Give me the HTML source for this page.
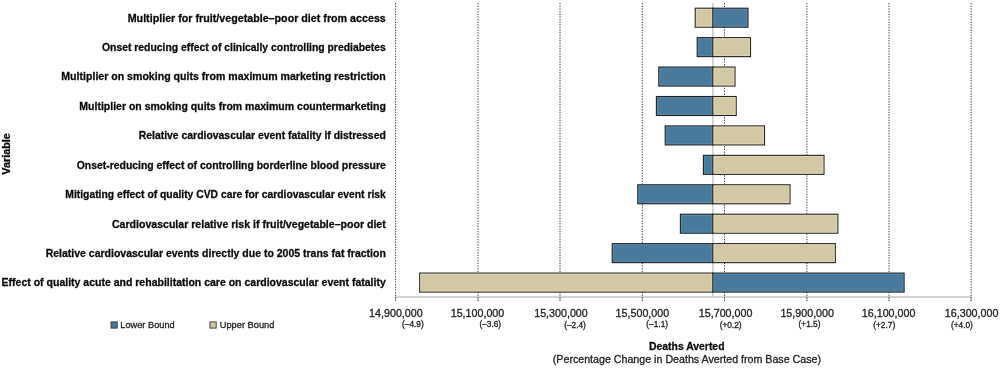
<!DOCTYPE html>
<html><head><meta charset="utf-8"><style>
html,body{margin:0;padding:0;background:#fff;}
body{width:1000px;height:368px;overflow:hidden;}
svg{display:block;will-change:transform;}
text{font-family:"Liberation Sans",sans-serif;}
.r{stroke:#222;stroke-width:0.3;}
.b{stroke:#0a0a0a;stroke-width:0.28;}
</style></head><body>
<svg width="1000" height="368" viewBox="0 0 1000 368">

<line x1="395.1" y1="297" x2="971.6" y2="297" stroke="#c4c4c4" stroke-width="1.6"/>
<line x1="395.6" y1="297" x2="395.6" y2="301" stroke="#c4c4c4" stroke-width="1.2"/>
<line x1="478.0" y1="297" x2="478.0" y2="301" stroke="#c4c4c4" stroke-width="1.2"/>
<line x1="560.0" y1="297" x2="560.0" y2="301" stroke="#c4c4c4" stroke-width="1.2"/>
<line x1="642.3" y1="297" x2="642.3" y2="301" stroke="#c4c4c4" stroke-width="1.2"/>
<line x1="724.5" y1="297" x2="724.5" y2="301" stroke="#c4c4c4" stroke-width="1.2"/>
<line x1="806.9" y1="297" x2="806.9" y2="301" stroke="#c4c4c4" stroke-width="1.2"/>
<line x1="889.0" y1="297" x2="889.0" y2="301" stroke="#c4c4c4" stroke-width="1.2"/>
<line x1="971.1" y1="297" x2="971.1" y2="301" stroke="#c4c4c4" stroke-width="1.2"/>
<line x1="395.6" y1="3.1" x2="395.6" y2="301" stroke="#3a3a3a" stroke-width="1" stroke-dasharray="1.3,1.35"/>
<line x1="478.0" y1="3.1" x2="478.0" y2="301" stroke="#3a3a3a" stroke-width="1" stroke-dasharray="1.3,1.35"/>
<line x1="560.0" y1="3.1" x2="560.0" y2="301" stroke="#3a3a3a" stroke-width="1" stroke-dasharray="1.3,1.35"/>
<line x1="642.3" y1="3.1" x2="642.3" y2="301" stroke="#3a3a3a" stroke-width="1" stroke-dasharray="1.3,1.35"/>
<line x1="724.5" y1="3.1" x2="724.5" y2="301" stroke="#3a3a3a" stroke-width="1" stroke-dasharray="1.3,1.35"/>
<line x1="806.9" y1="3.1" x2="806.9" y2="301" stroke="#3a3a3a" stroke-width="1" stroke-dasharray="1.3,1.35"/>
<line x1="889.0" y1="3.1" x2="889.0" y2="301" stroke="#3a3a3a" stroke-width="1" stroke-dasharray="1.3,1.35"/>
<line x1="971.1" y1="3.1" x2="971.1" y2="301" stroke="#3a3a3a" stroke-width="1" stroke-dasharray="1.3,1.35"/>
<line x1="712.9" y1="3.1" x2="712.9" y2="297" stroke="#c8c8c8" stroke-width="1.5"/>
<rect x="695.2" y="8.20" width="17.7" height="19.0" fill="#d2c8a5" stroke="#222" stroke-width="1.1"/>
<rect x="712.9" y="8.20" width="35.1" height="19.0" fill="#4a7a9b" stroke="#222" stroke-width="1.1"/>
<rect x="696.30" y="9.30" width="15.5" height="16.80" fill="none" stroke="#e4d9b6" stroke-width="0.7"/>
<rect x="714.00" y="9.30" width="32.9" height="16.80" fill="none" stroke="#5e8fb0" stroke-width="0.7"/>
<rect x="697.2" y="37.63" width="15.7" height="19.0" fill="#4a7a9b" stroke="#222" stroke-width="1.1"/>
<rect x="712.9" y="37.63" width="37.6" height="19.0" fill="#d2c8a5" stroke="#222" stroke-width="1.1"/>
<rect x="698.30" y="38.73" width="13.5" height="16.80" fill="none" stroke="#5e8fb0" stroke-width="0.7"/>
<rect x="714.00" y="38.73" width="35.4" height="16.80" fill="none" stroke="#e4d9b6" stroke-width="0.7"/>
<rect x="658.8" y="67.06" width="54.1" height="19.0" fill="#4a7a9b" stroke="#222" stroke-width="1.1"/>
<rect x="712.9" y="67.06" width="22.1" height="19.0" fill="#d2c8a5" stroke="#222" stroke-width="1.1"/>
<rect x="659.90" y="68.16" width="51.9" height="16.80" fill="none" stroke="#5e8fb0" stroke-width="0.7"/>
<rect x="714.00" y="68.16" width="19.9" height="16.80" fill="none" stroke="#e4d9b6" stroke-width="0.7"/>
<rect x="656.4" y="96.49" width="56.5" height="19.0" fill="#4a7a9b" stroke="#222" stroke-width="1.1"/>
<rect x="712.9" y="96.49" width="23.3" height="19.0" fill="#d2c8a5" stroke="#222" stroke-width="1.1"/>
<rect x="657.50" y="97.59" width="54.3" height="16.80" fill="none" stroke="#5e8fb0" stroke-width="0.7"/>
<rect x="714.00" y="97.59" width="21.1" height="16.80" fill="none" stroke="#e4d9b6" stroke-width="0.7"/>
<rect x="665.2" y="125.92" width="47.7" height="19.0" fill="#4a7a9b" stroke="#222" stroke-width="1.1"/>
<rect x="712.9" y="125.92" width="51.6" height="19.0" fill="#d2c8a5" stroke="#222" stroke-width="1.1"/>
<rect x="666.30" y="127.02" width="45.5" height="16.80" fill="none" stroke="#5e8fb0" stroke-width="0.7"/>
<rect x="714.00" y="127.02" width="49.4" height="16.80" fill="none" stroke="#e4d9b6" stroke-width="0.7"/>
<rect x="703.4" y="155.35" width="9.5" height="19.0" fill="#4a7a9b" stroke="#222" stroke-width="1.1"/>
<rect x="712.9" y="155.35" width="111.1" height="19.0" fill="#d2c8a5" stroke="#222" stroke-width="1.1"/>
<rect x="704.50" y="156.45" width="7.3" height="16.80" fill="none" stroke="#5e8fb0" stroke-width="0.7"/>
<rect x="714.00" y="156.45" width="108.9" height="16.80" fill="none" stroke="#e4d9b6" stroke-width="0.7"/>
<rect x="637.8" y="184.78" width="75.1" height="19.0" fill="#4a7a9b" stroke="#222" stroke-width="1.1"/>
<rect x="712.9" y="184.78" width="77.1" height="19.0" fill="#d2c8a5" stroke="#222" stroke-width="1.1"/>
<rect x="638.90" y="185.88" width="72.9" height="16.80" fill="none" stroke="#5e8fb0" stroke-width="0.7"/>
<rect x="714.00" y="185.88" width="74.9" height="16.80" fill="none" stroke="#e4d9b6" stroke-width="0.7"/>
<rect x="680.4" y="214.21" width="32.5" height="19.0" fill="#4a7a9b" stroke="#222" stroke-width="1.1"/>
<rect x="712.9" y="214.21" width="125.0" height="19.0" fill="#d2c8a5" stroke="#222" stroke-width="1.1"/>
<rect x="681.50" y="215.31" width="30.3" height="16.80" fill="none" stroke="#5e8fb0" stroke-width="0.7"/>
<rect x="714.00" y="215.31" width="122.8" height="16.80" fill="none" stroke="#e4d9b6" stroke-width="0.7"/>
<rect x="612.2" y="243.64" width="100.7" height="19.0" fill="#4a7a9b" stroke="#222" stroke-width="1.1"/>
<rect x="712.9" y="243.64" width="122.4" height="19.0" fill="#d2c8a5" stroke="#222" stroke-width="1.1"/>
<rect x="613.30" y="244.74" width="98.5" height="16.80" fill="none" stroke="#5e8fb0" stroke-width="0.7"/>
<rect x="714.00" y="244.74" width="120.2" height="16.80" fill="none" stroke="#e4d9b6" stroke-width="0.7"/>
<rect x="419.7" y="273.07" width="293.2" height="19.0" fill="#d2c8a5" stroke="#222" stroke-width="1.1"/>
<rect x="712.9" y="273.07" width="191.2" height="19.0" fill="#4a7a9b" stroke="#222" stroke-width="1.1"/>
<rect x="420.80" y="274.17" width="291.0" height="16.80" fill="none" stroke="#e4d9b6" stroke-width="0.7"/>
<rect x="714.00" y="274.17" width="189.0" height="16.80" fill="none" stroke="#5e8fb0" stroke-width="0.7"/>
<text x="127.7" y="21.50" font-size="11" font-weight="bold" fill="#0a0a0a" class="b" textLength="258.1" lengthAdjust="spacingAndGlyphs">Multiplier for fruit/vegetable–poor diet from access</text>
<text x="102.0" y="50.93" font-size="11" font-weight="bold" fill="#0a0a0a" class="b" textLength="283.8" lengthAdjust="spacingAndGlyphs">Onset reducing effect of clinically controlling prediabetes</text>
<text x="61.3" y="80.36" font-size="11" font-weight="bold" fill="#0a0a0a" class="b" textLength="324.5" lengthAdjust="spacingAndGlyphs">Multiplier on smoking quits from maximum marketing restriction</text>
<text x="79.3" y="109.79" font-size="11" font-weight="bold" fill="#0a0a0a" class="b" textLength="306.5" lengthAdjust="spacingAndGlyphs">Multiplier on smoking quits from maximum countermarketing</text>
<text x="138.7" y="139.22" font-size="11" font-weight="bold" fill="#0a0a0a" class="b" textLength="247.1" lengthAdjust="spacingAndGlyphs">Relative cardiovascular event fatality if distressed</text>
<text x="76.7" y="168.65" font-size="11" font-weight="bold" fill="#0a0a0a" class="b" textLength="309.1" lengthAdjust="spacingAndGlyphs">Onset-reducing effect of controlling borderline blood pressure</text>
<text x="65.3" y="198.08" font-size="11" font-weight="bold" fill="#0a0a0a" class="b" textLength="320.5" lengthAdjust="spacingAndGlyphs">Mitigating effect of quality CVD care for cardiovascular event risk</text>
<text x="111.9" y="227.51" font-size="11" font-weight="bold" fill="#0a0a0a" class="b" textLength="273.9" lengthAdjust="spacingAndGlyphs">Cardiovascular relative risk if fruit/vegetable–poor diet</text>
<text x="45.7" y="256.94" font-size="11" font-weight="bold" fill="#0a0a0a" class="b" textLength="340.1" lengthAdjust="spacingAndGlyphs">Relative cardiovascular events directly due to 2005 trans fat fraction</text>
<text x="1.6" y="286.37" font-size="11" font-weight="bold" fill="#0a0a0a" class="b" textLength="384.2" lengthAdjust="spacingAndGlyphs">Effect of quality acute and rehabilitation care on cardiovascular event fatality</text>
<text x="395.9" y="316.8" font-size="10.8" fill="#222" class="r" text-anchor="middle" textLength="53.6" lengthAdjust="spacingAndGlyphs">14,900,000</text>
<text x="412.9" y="327.3" font-size="8.3" fill="#222" class="r" text-anchor="middle">(–4.9)</text>
<text x="477.5" y="316.8" font-size="10.8" fill="#222" class="r" text-anchor="middle" textLength="53.6" lengthAdjust="spacingAndGlyphs">15,100,000</text>
<text x="490.3" y="327.3" font-size="8.3" fill="#222" class="r" text-anchor="middle">(–3.6)</text>
<text x="561.0" y="316.8" font-size="10.8" fill="#222" class="r" text-anchor="middle" textLength="53.6" lengthAdjust="spacingAndGlyphs">15,300,000</text>
<text x="575.0" y="327.5" font-size="8.3" fill="#222" class="r" text-anchor="middle">(–2.4)</text>
<text x="642.4" y="316.8" font-size="10.8" fill="#222" class="r" text-anchor="middle" textLength="53.6" lengthAdjust="spacingAndGlyphs">15,500,000</text>
<text x="657.2" y="326.6" font-size="8.3" fill="#222" class="r" text-anchor="middle">(–1.1)</text>
<text x="725.6" y="316.8" font-size="10.8" fill="#222" class="r" text-anchor="middle" textLength="53.6" lengthAdjust="spacingAndGlyphs">15,700,000</text>
<text x="730.6" y="327.5" font-size="8.3" fill="#222" class="r" text-anchor="middle">(+0.2)</text>
<text x="807.2" y="316.8" font-size="10.8" fill="#222" class="r" text-anchor="middle" textLength="53.6" lengthAdjust="spacingAndGlyphs">15,900,000</text>
<text x="809.5" y="326.6" font-size="8.3" fill="#222" class="r" text-anchor="middle">(+1.5)</text>
<text x="888.6" y="316.8" font-size="10.8" fill="#222" class="r" text-anchor="middle" textLength="53.6" lengthAdjust="spacingAndGlyphs">16,100,000</text>
<text x="884.2" y="327.5" font-size="8.3" fill="#222" class="r" text-anchor="middle">(+2.7)</text>
<text x="971.6" y="316.8" font-size="10.8" fill="#222" class="r" text-anchor="middle" textLength="53.6" lengthAdjust="spacingAndGlyphs">16,300,000</text>
<text x="961.9" y="327.5" font-size="8.3" fill="#222" class="r" text-anchor="middle">(+4.0)</text>
<text transform="translate(10.0,174.7) rotate(-90)" font-size="10.6" font-weight="bold" fill="#0a0a0a" class="b" textLength="41.5" lengthAdjust="spacingAndGlyphs">Variable</text>
<rect x="111" y="321.9" width="6.2" height="6.2" fill="#4a7a9b" stroke="#333" stroke-width="0.9"/>
<text x="120.3" y="328.4" font-size="9.8" fill="#222" class="r" textLength="54.4" lengthAdjust="spacingAndGlyphs">Lower Bound</text>
<rect x="210" y="321.9" width="6.2" height="6.2" fill="#d2c8a5" stroke="#333" stroke-width="0.9"/>
<text x="219.7" y="328.4" font-size="9.8" fill="#222" class="r" textLength="54.7" lengthAdjust="spacingAndGlyphs">Upper Bound</text>
<text x="649" y="350" font-size="11" font-weight="bold" fill="#0a0a0a" class="b" textLength="75.5" lengthAdjust="spacingAndGlyphs">Deaths Averted</text>
<text x="552.8" y="363.2" font-size="11" fill="#222" class="r" textLength="268.2" lengthAdjust="spacingAndGlyphs">(Percentage Change in Deaths Averted from Base Case)</text>
</svg></body></html>
